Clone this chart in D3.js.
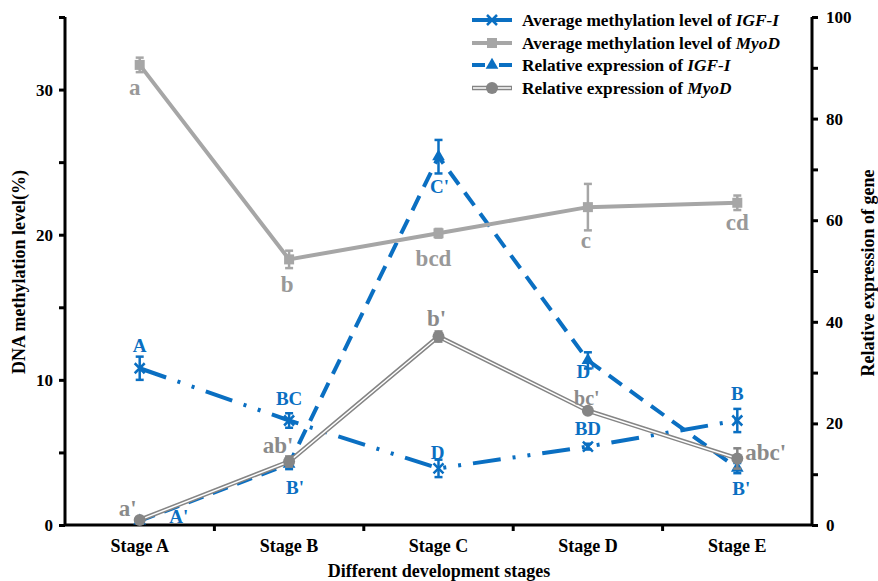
<!DOCTYPE html>
<html>
<head>
<meta charset="utf-8">
<script src="https://cdn.jsdelivr.net/npm/d3@7"></script>
<style>
  html, body { margin: 0; padding: 0; background: #fff; }
  svg { display: block; font-family: "Liberation Serif", "Times New Roman", serif; font-weight: bold; }
</style>
</head>
<body>
<svg id="chart" width="878" height="581"></svg>
<script>
// Development stages
const stages = ["Stage A", "Stage B", "Stage C", "Stage D", "Stage E"];

// Average methylation level (%) — left axis
const igfMeth = [10.8, 7.2, 3.9, 5.4, 7.2];
const igfMethErr = [0.8, 0.5, 0.6, 0.2, 0.8];
const myodMeth = [31.7, 18.3, 20.1, 21.9, 22.2];
const myodMethErr = [0.5, 0.6, 0.3, 1.6, 0.5];

// Relative expression of gene — right axis
const igfExpr = [0.8, 12.0, 72.5, 32.4, 11.2];
const igfExprErr = [0.5, 1.0, 3.3, 1.6, 1.0];
const myodExpr = [1.0, 12.5, 37.1, 22.5, 13.1];
const myodExprErr = [0.5, 1.0, 1.0, 0.5, 2.0];

// Significance letters
const igfMethLetters = ["A", "BC", "D", "BD", "B"];
const myodMethLetters = ["a", "b", "bcd", "c", "cd"];
const igfExprLetters = ["A'", "B'", "C'", "D'", "B'"];
const myodExprLetters = ["a'", "ab'", "b'", "bc'", "abc'"];

// Axis ticks
const leftTicks = [0, 10, 20, 30];
const leftMinorTicks = [0, 5, 10, 15, 20, 25, 30, 35];
const rightTicks = [0, 20, 40, 60, 80, 100];
const rightMinorTicks = [0, 10, 20, 30, 40, 50, 60, 70, 80, 90, 100];

const BLUE = "#0a6fc2";
const GRAY = "#a6a6a6";
const DGRAY = "#858585";
const LETTER_GRAY = "#999999";
const LETTER_DGRAY = "#8a8a8a";

const svg = d3.select("#chart");
const plot = { left: 65, right: 812, top: 17, bottom: 525 };

const x = d3.scaleBand().domain(stages).range([plot.left, plot.right]).padding(0);
const xc = i => x(stages[i]) + x.bandwidth() / 2;
const yL = d3.scaleLinear().domain([0, 35]).range([plot.bottom, plot.top]);
const yR = d3.scaleLinear().domain([0, 100]).range([plot.bottom, plot.top]);

// Axes
const axisFont = g => g.selectAll("text")
  .attr("font-size", 17).attr("font-weight", "bold")
  .attr("font-family", "Liberation Serif, Times New Roman, serif").attr("fill", "#000");

const leftAxis = svg.append("g").attr("transform", `translate(${plot.left},0)`)
  .call(d3.axisLeft(yL).tickValues(leftMinorTicks).tickSize(6).tickPadding(6)
    .tickFormat(d => leftTicks.includes(d) ? d : ""));
leftAxis.call(axisFont);

const rightAxis = svg.append("g").attr("transform", `translate(${plot.right},0)`)
  .call(d3.axisRight(yR).tickValues(rightMinorTicks).tickSize(6).tickPadding(8)
    .tickFormat(d => rightTicks.includes(d) ? d : ""));
rightAxis.call(axisFont);

// Category boundary ticks on the x axis
const bottomAxis = svg.append("g").attr("transform", `translate(0,${plot.bottom})`)
  .call(d3.axisBottom(x).tickSize(0).tickPadding(14));
bottomAxis.call(axisFont);
bottomAxis.selectAll("text").attr("font-size", 18);
bottomAxis.selectAll(".boundary")
  .data(stages.slice(1))
  .join("line")
  .attr("x1", d => x(d)).attr("x2", d => x(d))
  .attr("y1", 0).attr("y2", 6)
  .attr("stroke", "#000").attr("stroke-width", 3);

[leftAxis, rightAxis, bottomAxis].forEach(g => {
  g.select(".domain").attr("stroke", "#000").attr("stroke-width", 3);
  g.selectAll(".tick line").attr("stroke", "#000").attr("stroke-width", 3);
});
bottomAxis.select(".domain").attr("d", `M${plot.left},0H${plot.right}`);
leftAxis.select(".domain").attr("d", `M0,${plot.top}V${plot.bottom}`);
rightAxis.select(".domain").attr("d", `M0,${plot.top}V${plot.bottom}`);

// Axis titles
svg.append("text").attr("x", 439).attr("y", 577).attr("text-anchor", "middle")
  .attr("font-size", 18).text("Different development stages");
svg.append("text").attr("transform", "translate(25,272) rotate(-90)")
  .attr("text-anchor", "middle").attr("font-size", 18).text("DNA methylation level(%)");
svg.append("text").attr("transform", "translate(874,273) rotate(-90)")
  .attr("text-anchor", "middle").attr("font-size", 18).text("Relative expression of gene");

// Series drawing helpers
function lineOf(vals, scale) {
  return d3.line().x((d, i) => xc(i)).y(d => scale(d))(vals);
}
function errorBars(vals, errs, scale, color, w) {
  const g = svg.append("g");
  vals.forEach((v, i) => {
    const cx = xc(i), y1 = scale(v + errs[i]), y2 = scale(v - errs[i]);
    g.append("line").attr("x1", cx).attr("x2", cx).attr("y1", y1).attr("y2", y2)
      .attr("stroke", color).attr("stroke-width", w);
    [y1, y2].forEach(yy => g.append("line")
      .attr("x1", cx - 4).attr("x2", cx + 4).attr("y1", yy).attr("y2", yy)
      .attr("stroke", color).attr("stroke-width", w));
  });
}
function markerX(g, cx, cy, color) {
  const s = 5;
  g.append("path").attr("d", `M${cx - s},${cy - s}L${cx + s},${cy + s}M${cx - s},${cy + s}L${cx + s},${cy - s}`)
    .attr("stroke", color).attr("stroke-width", 2.5).attr("fill", "none");
}
function markerSquare(g, cx, cy, color) {
  g.append("rect").attr("x", cx - 5).attr("y", cy - 5).attr("width", 10).attr("height", 10).attr("fill", color);
}
function markerTri(g, cx, cy, color) {
  g.append("path").attr("d", d3.symbol(d3.symbolTriangle, 70)()).attr("transform", `translate(${cx},${cy})`).attr("fill", color);
}
function markerCircle(g, cx, cy, color) {
  g.append("circle").attr("cx", cx).attr("cy", cy).attr("r", 6).attr("fill", color);
}

// Expression of IGF-I (dashed blue, triangles)
svg.append("path").attr("d", lineOf(igfExpr, yR)).attr("fill", "none")
  .attr("stroke", BLUE).attr("stroke-width", 4).attr("stroke-dasharray", "16,10");
errorBars(igfExpr, igfExprErr, yR, BLUE, 2.5);
const gTri = svg.append("g");
igfExpr.forEach((v, i) => markerTri(gTri, xc(i), yR(v), BLUE));

// Methylation of IGF-I (long dash-dot-dot blue, crosses)
svg.append("path").attr("d", lineOf(igfMeth, yL)).attr("fill", "none")
  .attr("stroke", BLUE).attr("stroke-width", 4).attr("stroke-dasharray", "28,12,3,12,3,12");
errorBars(igfMeth, igfMethErr, yL, BLUE, 2.5);
const gX = svg.append("g");
igfMeth.forEach((v, i) => markerX(gX, xc(i), yL(v), BLUE));

// Methylation of MyoD (solid gray, squares)
svg.append("path").attr("d", lineOf(myodMeth, yL)).attr("fill", "none")
  .attr("stroke", GRAY).attr("stroke-width", 4);
errorBars(myodMeth, myodMethErr, yL, GRAY, 2.5);
const gSq = svg.append("g");
myodMeth.forEach((v, i) => markerSquare(gSq, xc(i), yL(v), GRAY));

// Expression of MyoD (double gray line, circles)
svg.append("path").attr("d", lineOf(myodExpr, yR)).attr("fill", "none")
  .attr("stroke", DGRAY).attr("stroke-width", 4.5);
svg.append("path").attr("d", lineOf(myodExpr, yR)).attr("fill", "none")
  .attr("stroke", "#fff").attr("stroke-width", 1.5);
errorBars(myodExpr, myodExprErr, yR, DGRAY, 2.5);
const gCi = svg.append("g");
myodExpr.forEach((v, i) => markerCircle(gCi, xc(i), yR(v), DGRAY));

// Significance letters, placed relative to each point
function letters(labels, vals, scale, offsets, color, size, anchor) {
  svg.append("g").selectAll("text").data(labels).join("text")
    .attr("x", (d, i) => xc(i) + offsets[i][0])
    .attr("y", (d, i) => scale(vals[i]) + offsets[i][1])
    .attr("text-anchor", (d, i) => (anchor && anchor[i]) || "middle")
    .attr("dominant-baseline", "central")
    .attr("font-size", (d, i) => Array.isArray(size) ? size[i] : size)
    .attr("fill", color).text(d => d);
}
letters(myodMethLetters, myodMeth, yL, [[-5, 23], [-2, 25], [-5, 25], [-2, 33], [0, 20]], LETTER_GRAY, 23);
letters(igfMethLetters, igfMeth, yL, [[0, -23], [0, -22], [-1, -16], [0, -18], [0, -27]], BLUE, 19);
letters(igfExprLetters, igfExpr, yR, [[39, -4], [6, 23], [1, 30], [-2, 11], [4, 20]], BLUE, 19);
letters(myodExprLetters, myodExpr, yR, [[-12, -11], [-11, -16], [-2, -18], [-1, -13], [8, -6]], LETTER_DGRAY,
  [23, 23, 23, 20, 23], [null, null, null, null, "start"]);

// Legend
const legend = [
  { pre: "Average methylation level of ", gene: "IGF-I", color: BLUE, kind: "x" },
  { pre: "Average methylation level of ", gene: "MyoD", color: GRAY, kind: "sq" },
  { pre: "Relative expression of ", gene: "IGF-I", color: BLUE, kind: "tri" },
  { pre: "Relative expression of ", gene: "MyoD", color: DGRAY, kind: "ci" }
];
const legRowY = [20, 43, 65, 88];
const lg = svg.append("g");
legend.forEach((d, i) => {
  const yy = legRowY[i];
  if (d.kind === "tri") {
    lg.append("line").attr("x1", 472).attr("x2", 485).attr("y1", yy).attr("y2", yy).attr("stroke", d.color).attr("stroke-width", 4);
    lg.append("line").attr("x1", 499).attr("x2", 512).attr("y1", yy).attr("y2", yy).attr("stroke", d.color).attr("stroke-width", 4);
  } else if (d.kind === "ci") {
    lg.append("line").attr("x1", 472).attr("x2", 512).attr("y1", yy).attr("y2", yy).attr("stroke", d.color).attr("stroke-width", 4.5);
    lg.append("line").attr("x1", 473).attr("x2", 511).attr("y1", yy).attr("y2", yy).attr("stroke", "#fff").attr("stroke-width", 1.5);
  } else {
    lg.append("line").attr("x1", 472).attr("x2", 512).attr("y1", yy).attr("y2", yy).attr("stroke", d.color).attr("stroke-width", 4);
  }
  if (d.kind === "x") markerX(lg, 492, yy, d.color);
  if (d.kind === "sq") markerSquare(lg, 492, yy, d.color);
  if (d.kind === "tri") markerTri(lg, 492, yy, d.color);
  if (d.kind === "ci") markerCircle(lg, 492, yy, d.color);
  const t = lg.append("text").attr("x", 522).attr("y", yy).attr("dominant-baseline", "central")
    .attr("font-size", 17.3).attr("fill", "#000");
  t.append("tspan").text(d.pre);
  t.append("tspan").attr("font-style", "italic").text(d.gene);
});
</script>
</body>
</html>
